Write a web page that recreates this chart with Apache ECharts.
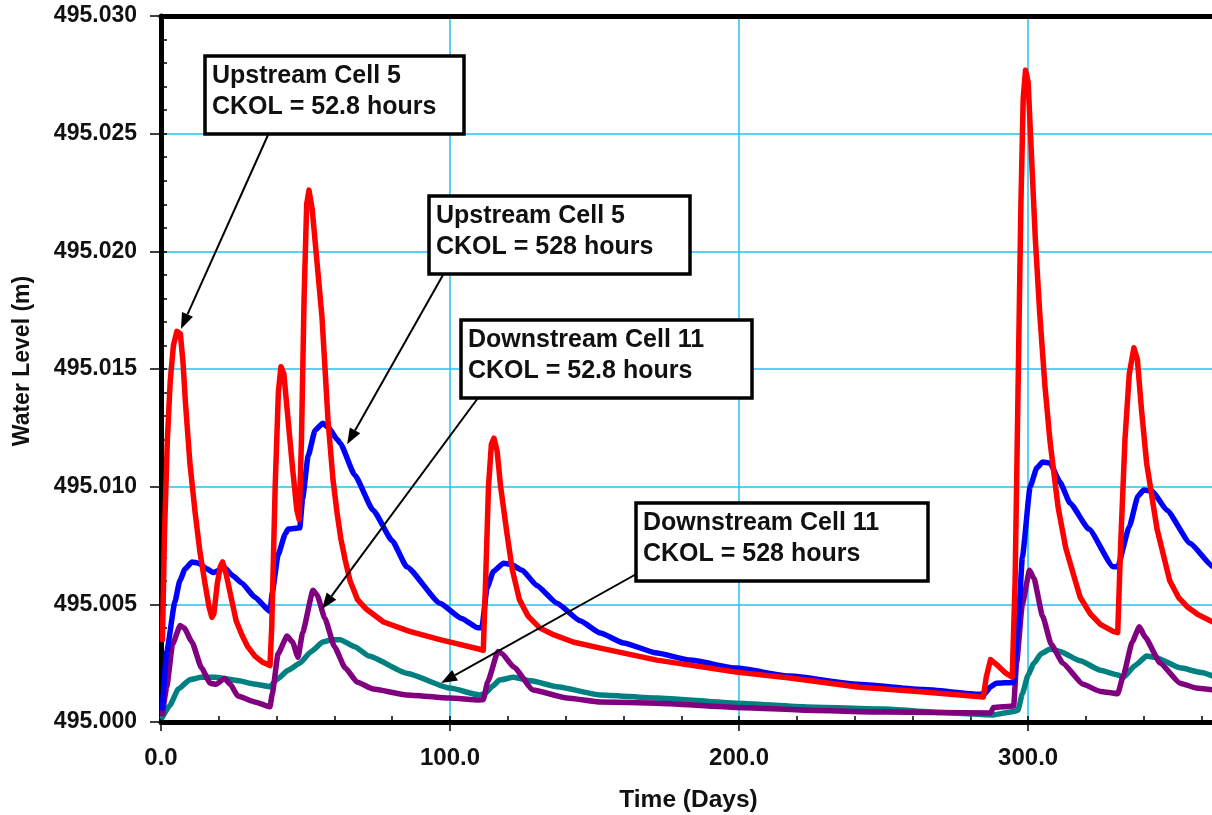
<!DOCTYPE html>
<html>
<head>
<meta charset="utf-8">
<script src="https://cdn.jsdelivr.net/npm/echarts@6/dist/echarts.min.js"></script>
<style>
html,body{margin:0;padding:0;background:#fff;}
#chart{width:1212px;height:815px;}
</style>
</head>
<body>
<div id="chart"></div>
<script>
// ---- data ----
const xTickLabels = ['0.0','100.0','200.0','300.0'];
const yTickLabels = ['495.000','495.005','495.010','495.015','495.020','495.025','495.030'];

// Upstream Cell 5, CKOL = 52.8 hours (red)
const upstream528Days = [0.5,1.2,2.2,3.2,4.3,5.5,6.7,7.6,8.5,10,11.8,13.5,15.2,16.6,17.6,18.3,19.5,20.5,21.3,22.5,24.6,26,28,30,32.5,35,37.7,38.3,39.5,40.6,41.5,42.5,44,45.5,47,47.8,48.6,49.5,50.4,51.2,52.3,54,55.7,57.8,59.5,60.9,62.2,63.7,65.4,68,71,77,86,96.5,110,111.5,112.3,113.3,114.3,115.2,116.3,117.5,119.7,121.5,124,127,131,136,142.6,152,171.6,199,217.6,241,264,284.5,285.5,287,289,292,294.5,295.5,296.5,297.5,298.3,299.1,300,301,302.5,304,305.8,307.6,310.4,313,315.6,318,321.5,325,329.4,331,332,333.5,335,336.6,337.8,339.2,341,344.6,349,352,355,359,363,365];
const upstream528Levels = [495.0035,495.0080,495.0120,495.0145,495.0160,495.0166,495.0165,495.0153,495.0135,495.0110,495.0089,495.0072,495.0059,495.0049,495.00445,495.0046,495.0059,495.0066,495.0068,495.0063,495.0051,495.0043,495.0037,495.0032,495.0028,495.00255,495.0024,495.0040,495.0100,495.0140,495.0151,495.0148,495.0128,495.0108,495.0090,495.0086,495.0120,495.0180,495.0220,495.0226,495.0218,495.0195,495.0172,495.0128,495.0103,495.0089,495.0078,495.0069,495.0060,495.0052,495.0048,495.00425,495.00385,495.0035,495.0031,495.00305,495.0060,495.0100,495.0118,495.01206,495.0115,495.0100,495.0080,495.0065,495.0052,495.0045,495.0040,495.0037,495.0034,495.00314,495.00263,495.00212,495.00187,495.00149,495.00127,495.00106,495.0019,495.00265,495.00245,495.0021,495.0019,495.0060,495.0140,495.0220,495.0265,495.0277,495.0272,495.0245,495.0205,495.0174,495.0143,495.0119,495.0091,495.0074,495.0063,495.0053,495.0046,495.00415,495.00385,495.0038,495.0075,495.0120,495.0148,495.0159,495.0154,495.0133,495.0110,495.0082,495.0060,495.0053,495.0049,495.00455,495.0043,495.0042];

// Upstream Cell 5, CKOL = 528 hours (blue)
const upstream5280Days = [0.5,2,4.8,6.5,8.3,10.7,13,16,18,22,25,28,32.5,37.7,38.5,40.5,43,44,48,49,50.9,53.3,56,58,61,62,67,73.4,80,85,96.5,104,109.7,111,112.8,115,118.5,121,125,130,137,145,152,160,171.6,183,199,217.6,241,264,283,285,287,289,295,296.5,298,300.7,303,305,307.6,311,314.5,321,329.4,331,335,338,340,343,348,356,364,365];
const upstream5280Levels = [495.0006,495.0030,495.0051,495.0060,495.0065,495.0068,495.00675,495.0065,495.00635,495.00655,495.0062,495.0059,495.0053,495.0047,495.0055,495.0071,495.0080,495.0082,495.00825,495.0095,495.0113,495.0124,495.0127,495.0125,495.0120,495.01185,495.0105,495.0090,495.0077,495.0066,495.00505,495.0044,495.0040,495.0040,495.0057,495.0064,495.00675,495.0067,495.00645,495.0058,495.00505,495.0043,495.00378,495.00336,495.00293,495.00263,495.00229,495.00195,495.0016,495.00138,495.00118,495.0012,495.0015,495.00165,495.00168,495.0040,495.0070,495.0100,495.0108,495.01105,495.0110,495.0102,495.0093,495.0082,495.0066,495.0066,495.0083,495.0096,495.00986,495.0098,495.0090,495.0076,495.0066,495.0065];

// Downstream Cell 11, CKOL = 528 hours (teal)
const downstream5280Days = [0.5,3,6,10,14,19,27,32,37.7,40,44,48,52,56,59,62,67,72,85,100,110,112,115,117,122,128,137,152,171.6,199,223.5,250,270,288,295,296.5,298,300,302,304.5,307.6,311,318,325,331,333,337,341,344,352.6,360,365];
const downstream5280Levels = [495.0002,495.0007,495.0014,495.0018,495.0019,495.0019,495.00175,495.00162,495.0015,495.0018,495.0022,495.0025,495.0030,495.0034,495.0035,495.0035,495.0032,495.0028,495.00207,495.00144,495.00115,495.0012,495.00155,495.00178,495.0019,495.00175,495.0015,495.00115,495.00102,495.0008,495.00064,495.00055,495.0004,495.0003,495.00045,495.0005,495.0012,495.0020,495.0025,495.0029,495.0031,495.0030,495.0026,495.0022,495.0020,495.0019,495.0024,495.0028,495.00275,495.0023,495.0021,495.0019];

// Downstream Cell 11, CKOL = 52.8 hours (purple)
const downstream528Days = [0.5,2,4,6.6,8,10.7,14,17,19,22,24,26.6,32.5,37.7,38.5,40.5,43.6,45.5,47.4,49,52.6,54,56.7,60,63.7,67.8,73.4,85,100,110,111.5,113,116.6,118,122,128.7,140.5,152,171.6,199,223.5,250,287,288,295,296,298,300.5,302,305,308,312,319,325,331,333,336,338.5,340.5,345.7,352.6,358,365];
const downstream528Levels = [495.00035,495.0015,495.0033,495.0041,495.0040,495.0034,495.0023,495.00165,495.0016,495.00185,495.0016,495.0011,495.00085,495.00065,495.0012,495.0029,495.00365,495.0034,495.00275,495.0038,495.0056,495.0054,495.0044,495.0032,495.0023,495.0017,495.0014,495.00115,495.00102,495.00093,495.00095,495.0017,495.0030,495.0029,495.00234,495.00136,495.00102,495.00085,495.0008,495.00062,495.0005,495.00042,495.00038,495.00062,495.00068,495.0025,495.0050,495.00645,495.0061,495.0045,495.0033,495.0025,495.0016,495.0013,495.0012,495.0020,495.0034,495.00405,495.0036,495.0025,495.00165,495.00145,495.00135];

const callouts = [
  {lines:['Upstream Cell 5','CKOL = 52.8 hours'], box:[205,56,259,78], from:[268,135], to:[6.9,495.0167]},
  {lines:['Upstream Cell 5','CKOL = 528 hours'], box:[429,196,261,78], from:[443,275], to:[64.4,495.0118]},
  {lines:['Downstream Cell 11','CKOL = 52.8 hours'], box:[461,320,291,78], from:[478,398], to:[55.7,495.0048]},
  {lines:['Downstream Cell 11','CKOL = 528 hours'], box:[636,503,292,78], from:[640,572], to:[96.9,495.00166]}
];

// ---- chart ----
const FONT = '"Liberation Sans", Arial, Helvetica, sans-serif';
const GRIDC = '#22c4f0';
function pairs(d, v){ return d.map((x,i)=>[x, v[i]]); }
function mkSeries(name, d, v, color, z, smooth){
  return {name, type:'line', data:pairs(d,v), xAxisIndex:0, yAxisIndex:0,
    showSymbol:false, symbol:'none', smooth:smooth, smoothMonotone:'x', z:z,
    lineStyle:{color, width:5.5, join:'round', cap:'round'}, itemStyle:{color}};
}

const chart = echarts.init(document.getElementById('chart'), null, {renderer:'canvas'});
const option = {
  animation:false,
  backgroundColor:'#ffffff',
  grid:{left:161, top:16, width:1055, height:706, containLabel:false, outerBoundsMode:'none'},
  xAxis:[
    {type:'value', min:0, max:365, interval:100, position:'bottom',
     name:'Time (Days)', nameLocation:'middle', nameGap:66,
     nameTextStyle:{fontFamily:FONT, fontWeight:'bold', fontSize:24.5, color:'#111'},
     axisLine:{show:true, onZero:false, lineStyle:{color:'#000', width:5}},
     axisTick:{show:true, inside:false, length:9, lineStyle:{color:'#000', width:1.5}},
     axisLabel:{show:true, margin:24, fontFamily:FONT, fontWeight:'bold', fontSize:24, color:'#111',
       formatter:(v)=>{ const i = Math.round(v/100); return (Math.abs(v - i*100) < 1e-6 && xTickLabels[i]) ? xTickLabels[i] : ''; }},
     splitLine:{show:true, lineStyle:{color:GRIDC, width:1.5}}},
    {type:'value', min:0, max:365, interval:20, position:'bottom',
     axisLine:{show:false}, axisLabel:{show:false}, splitLine:{show:false},
     axisTick:{show:true, inside:true, length:6, lineStyle:{color:'#000', width:1.5}}},
    {type:'value', min:0, max:365, interval:100, position:'top',
     axisLine:{show:true, onZero:false, lineStyle:{color:'#000', width:5}},
     axisTick:{show:false}, axisLabel:{show:false}, splitLine:{show:false}}
  ],
  yAxis:[
    {type:'value', min:495.000, max:495.030, interval:0.005, position:'left',
     name:'Water Level (m)', nameLocation:'middle', nameGap:127, nameRotate:90,
     nameTextStyle:{fontFamily:FONT, fontWeight:'bold', fontSize:23, color:'#111', padding:[0,0,0,16]},
     axisLine:{show:true, onZero:false, lineStyle:{color:'#000', width:5}},
     axisTick:{show:true, inside:false, length:11, lineStyle:{color:'#000', width:1.5}},
     axisLabel:{show:true, margin:24, fontFamily:FONT, fontWeight:'bold', fontSize:23, color:'#111',
       formatter:(v)=>{ const i = Math.round((v-495)/0.005); return yTickLabels[i] || ''; }},
     splitLine:{show:true, lineStyle:{color:GRIDC, width:1.5}}},
    {type:'value', min:495.000, max:495.030, interval:0.001, position:'left',
     axisLine:{show:false}, axisLabel:{show:false}, splitLine:{show:false},
     axisTick:{show:true, inside:true, length:6, lineStyle:{color:'#000', width:1.5}}}
  ],
  series:[
    mkSeries('Downstream Cell 11, CKOL = 528 hours', downstream5280Days, downstream5280Levels, '#008080', 2, 0.15),
    mkSeries('Downstream Cell 11, CKOL = 52.8 hours', downstream528Days, downstream528Levels, '#800080', 3, 0.15),
    mkSeries('Upstream Cell 5, CKOL = 528 hours', upstream5280Days, upstream5280Levels, '#0000ff', 4, 0.15),
    mkSeries('Upstream Cell 5, CKOL = 52.8 hours', upstream528Days, upstream528Levels, '#ff0000', 5, false)
  ]
};
chart.setOption(option);

// ---- callout boxes and arrows ----
const els = [];
callouts.forEach((c)=>{
  const tip = chart.convertToPixel({xAxisIndex:0, yAxisIndex:0}, c.to);
  const sx = c.from[0], sy = c.from[1];
  const dx = tip[0]-sx, dy = tip[1]-sy, L = Math.hypot(dx,dy);
  const ux = dx/L, uy = dy/L, hl = 16, hw = 6;
  const bx = tip[0]-ux*hl, by = tip[1]-uy*hl;
  els.push({type:'line', z:100, shape:{x1:sx, y1:sy, x2:bx, y2:by}, style:{stroke:'#000', lineWidth:2}});
  els.push({type:'polygon', z:100, shape:{points:[[tip[0],tip[1]],[bx-uy*hw,by+ux*hw],[bx+uy*hw,by-ux*hw]]}, style:{fill:'#000'}});
  const [x,y,w,h] = c.box;
  els.push({type:'rect', z:101, shape:{x:x, y:y, width:w, height:h}, style:{fill:'#fff', stroke:'#000', lineWidth:3.5}});
  c.lines.forEach((t,i)=>{
    els.push({type:'text', z:102, x:x+7, y:y+20+i*31,
      style:{text:t, fill:'#111', font:'bold 25px ' + FONT, textAlign:'left', textVerticalAlign:'middle'}});
  });
});
chart.setOption({graphic:{elements:els}});
</script>
</body>
</html>
